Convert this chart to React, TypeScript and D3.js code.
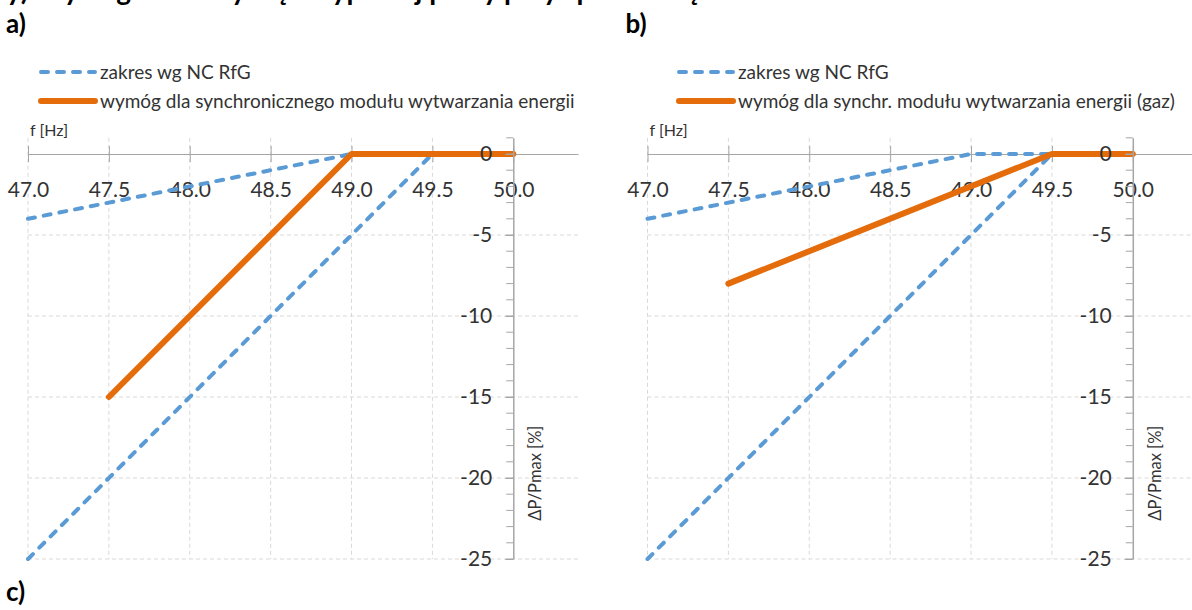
import React, { useEffect, useRef } from 'react';
import * as d3 from 'd3';

interface Pt {
  f: number;
  p: number;
}

// frequency ticks [Hz] and power ticks [%]
const xTicks = [47.0, 47.5, 48.0, 48.5, 49.0, 49.5, 50.0];
const yTicks = [0, -5, -10, -15, -20, -25];

// NC RfG admissible range (both panels)
const rangeUpper: Pt[] = [
  { f: 47.0, p: -4 },
  { f: 49.0, p: 0 },
  { f: 49.5, p: 0 },
];
const rangeLower: Pt[] = [
  { f: 47.0, p: -25 },
  { f: 49.5, p: 0 },
];

// requirement lines
const reqSync: Pt[] = [
  { f: 47.5, p: -15 },
  { f: 49.0, p: 0 },
  { f: 50.0, p: 0 },
];
const reqGas: Pt[] = [
  { f: 47.5, p: -8 },
  { f: 49.5, p: 0 },
  { f: 50.0, p: 0 },
];

const rangeLabel = 'zakres wg NC RfG';
const reqLabelA = 'wymóg dla synchronicznego modułu wytwarzania energii';
const reqLabelB = 'wymóg dla synchr. modułu wytwarzania energii (gaz)';

const BLUE = '#5B9BD5';
const ORANGE = '#E46C0A';
const GRID = '#d9d9d9';
const AXIS = '#a6a6a6';
const FONT = 'Lato, "Open Sans", sans-serif';

interface PanelCfg {
  dx: number;
  legendX: number;
  tag: string;
  req: Pt[];
  reqLabel: string;
}

const panels: PanelCfg[] = [
  { dx: 0, legendX: 38, tag: 'a)', req: reqSync, reqLabel: reqLabelA },
  { dx: 619.5, legendX: 676, tag: 'b)', req: reqGas, reqLabel: reqLabelB },
];

const drawPanel = (root: d3.Selection<SVGSVGElement, unknown, null, undefined>, cfg: PanelCfg) => {
  const g = root.append('g').attr('transform', `translate(${cfg.dx},0)`);

  const x = d3.scaleLinear().domain([47, 50.4]).range([28, 578]);
  const y = d3.scaleLinear().domain([-25, 1]).range([559, 137.8]);

  // gridlines
  g.selectAll('.vgrid')
    .data(xTicks.filter(t => t !== 50))
    .enter()
    .append('line')
    .attr('x1', d => x(d))
    .attr('x2', d => x(d))
    .attr('y1', y(1))
    .attr('y2', y(-25))
    .attr('stroke', GRID)
    .attr('stroke-dasharray', '4,3');

  g.selectAll('.hgrid')
    .data(yTicks.filter(t => t !== 0))
    .enter()
    .append('line')
    .attr('x1', x(47))
    .attr('x2', x(50.4))
    .attr('y1', d => y(d))
    .attr('y2', d => y(d))
    .attr('stroke', GRID)
    .attr('stroke-dasharray', '4,3');

  // x axis (crossing ticks, labels below)
  const xAxis = g
    .append('g')
    .attr('transform', `translate(0,${y(0)})`)
    .call(
      d3
        .axisBottom(x)
        .tickValues(xTicks)
        .tickSizeOuter(0)
        .tickSizeInner(8)
        .tickPadding(20)
        .tickFormat(d => d3.format('.1f')(d as number))
    );
  xAxis.select('.domain').attr('stroke', AXIS);
  xAxis.selectAll('.tick line').attr('y1', -8).attr('y2', 8).attr('stroke', AXIS);
  xAxis
    .selectAll('.tick text')
    .attr('font-family', FONT)
    .attr('font-size', 21)
    .attr('fill', '#333');

  // series
  const line = d3
    .line<Pt>()
    .x(d => x(d.f))
    .y(d => y(d.p));

  [rangeUpper, rangeLower].forEach(s => {
    g.append('path')
      .attr('d', line(s))
      .attr('fill', 'none')
      .attr('stroke', BLUE)
      .attr('stroke-width', 4)
      .attr('stroke-linecap', 'round')
      .attr('stroke-dasharray', '7,9');
  });

  g.append('path')
    .attr('d', line(cfg.req))
    .attr('fill', 'none')
    .attr('stroke', ORANGE)
    .attr('stroke-width', 6)
    .attr('stroke-linecap', 'round')
    .attr('stroke-linejoin', 'round');

  // y axis at 50 Hz with minor ticks
  const ax = x(50);
  g.selectAll('.minor')
    .data(d3.range(-25, 2, 1))
    .enter()
    .append('line')
    .attr('x1', ax - 7)
    .attr('x2', ax)
    .attr('y1', d => y(d))
    .attr('y2', d => y(d))
    .attr('stroke', AXIS);

  const yAxis = g
    .append('g')
    .attr('transform', `translate(${ax},0)`)
    .call(
      d3
        .axisLeft(y)
        .tickValues(yTicks)
        .tickSizeOuter(0)
        .tickSizeInner(8)
        .tickPadding(13)
        .tickFormat(d => String(d))
    );
  yAxis.select('.domain').attr('stroke', AXIS).attr('stroke-width', 1.5);
  yAxis.selectAll('.tick line').attr('stroke', AXIS);
  yAxis
    .selectAll('.tick text')
    .attr('font-family', FONT)
    .attr('font-size', 21)
    .attr('fill', '#333');

  // axis titles
  g.append('text')
    .attr('transform', `translate(${ax + 22},${y(-19.7)}) rotate(-90)`)
    .attr('text-anchor', 'middle')
    .attr('dy', '0.35em')
    .attr('font-family', FONT)
    .attr('font-size', 16.5)
    .attr('fill', '#333')
    .text('ΔP/Pmax [%]');

  g.append('text')
    .attr('x', x(47) + 2)
    .attr('y', 136)
    .attr('font-family', FONT)
    .attr('font-size', 16)
    .attr('fill', '#333')
    .text('f [Hz]');

  // panel tag
  g.append('text')
    .attr('x', 6)
    .attr('y', 33)
    .attr('font-family', FONT)
    .attr('font-weight', 'bold')
    .attr('font-size', 26)
    .attr('fill', '#000')
    .text(cfg.tag);

  // legend
  const lx = cfg.legendX - cfg.dx;
  const items = [
    { label: rangeLabel, color: BLUE, width: 4, dash: '7,9', y: 72 },
    { label: cfg.reqLabel, color: ORANGE, width: 6, dash: null, y: 101 },
  ];
  const leg = g
    .selectAll('.legend')
    .data(items)
    .enter()
    .append('g')
    .attr('transform', d => `translate(${lx},${d.y})`);
  leg
    .append('line')
    .attr('x1', 3)
    .attr('x2', 57)
    .attr('stroke', d => d.color)
    .attr('stroke-width', d => d.width)
    .attr('stroke-linecap', 'round')
    .attr('stroke-dasharray', d => d.dash);
  leg
    .append('text')
    .attr('x', 62)
    .attr('dy', '0.35em')
    .attr('font-family', FONT)
    .attr('font-size', 19)
    .attr('fill', '#333')
    .text(d => d.label);
};

export default function App() {
  const svgRef = useRef<SVGSVGElement>(null);

  useEffect(() => {
    if (!svgRef.current) return;
    const svg = d3.select(svgRef.current);
    svg.selectAll('*').remove();

    svg.append('rect').attr('width', 1192).attr('height', 610).attr('fill', '#fff');

    // caption line above, cut off by the frame (only descenders show)
    svg
      .append('text')
      .attr('x', -4)
      .attr('y', 0)
      .attr('font-family', FONT)
      .attr('font-weight', 'bold')
      .attr('font-size', 28)
      .attr('fill', '#000')
      .text('ry) Wymagania dotyczące typowej pracy przy spadku częstotliwości');

    panels.forEach(p => drawPanel(svg, p));

    svg
      .append('text')
      .attr('x', 6)
      .attr('y', 601)
      .attr('font-family', FONT)
      .attr('font-weight', 'bold')
      .attr('font-size', 26)
      .attr('fill', '#000')
      .text('c)');
  }, []);

  return (
    <svg
      ref={svgRef}
      width={1192}
      height={610}
      style={{ position: 'absolute', left: 0, top: 0 }}
    />
  );
}
